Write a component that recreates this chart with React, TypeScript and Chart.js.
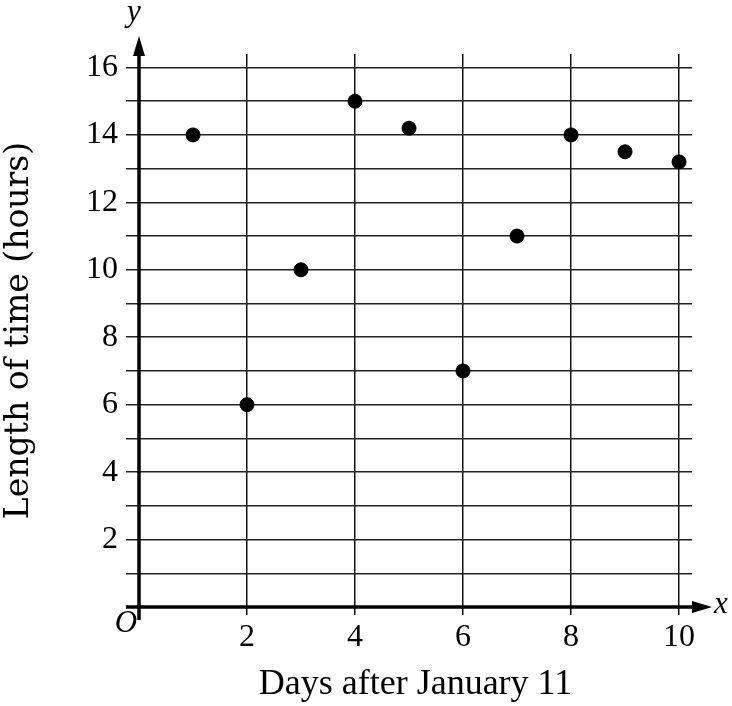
import React, { useEffect, useRef } from "react";
import { Chart, registerables } from "chart.js";

Chart.register(...registerables);

const days = [1, 2, 3, 4, 5, 6, 7, 8, 9, 10];
const hours = [14, 6, 10, 15, 14.2, 7, 11, 14, 13.5, 13.2];
const xTickValues = [0, 2, 4, 6, 8, 10];
const yTickValues = [0, 1, 2, 3, 4, 5, 6, 7, 8, 9, 10, 11, 12, 13, 14, 15, 16];
const xTitle = "Days after January 11";
const yTitle = "Length of time (hours)";

const FONT = "'Liberation Serif', 'DejaVu Serif', serif";
const YFONT = "'DejaVu Serif', 'Liberation Serif', serif";

const axesPlugin = {
  id: "axesArrows",
  afterDraw(chart: any) {
    const { ctx, chartArea, scales } = chart;
    const xs = scales.x;
    const ys = scales.y;
    const x0 = xs.getPixelForValue(0);
    const y0 = ys.getPixelForValue(0);
    const tipX = 712;
    const tipY = 36;
    ctx.save();
    ctx.strokeStyle = "#000";
    ctx.fillStyle = "#000";
    ctx.lineWidth = 3.5;
    ctx.lineCap = "butt";
    // y axis
    ctx.beginPath();
    ctx.moveTo(x0, chartArea.bottom + 13);
    ctx.lineTo(x0, tipY + 16);
    ctx.stroke();
    ctx.beginPath();
    ctx.moveTo(x0, tipY);
    ctx.lineTo(x0 - 6, tipY + 20);
    ctx.lineTo(x0 + 6, tipY + 20);
    ctx.closePath();
    ctx.fill();
    // x axis
    ctx.beginPath();
    ctx.moveTo(chartArea.left - 13, y0);
    ctx.lineTo(tipX - 16, y0);
    ctx.stroke();
    ctx.beginPath();
    ctx.moveTo(tipX, y0);
    ctx.lineTo(tipX - 20, y0 - 6);
    ctx.lineTo(tipX - 20, y0 + 6);
    ctx.closePath();
    ctx.fill();
    // labels
    ctx.font = "italic 31px " + FONT;
    ctx.textAlign = "center";
    ctx.textBaseline = "middle";
    ctx.fillText("y", x0 - 5, 13);
    ctx.fillText("x", tipX + 9, y0 - 2);
    ctx.fillText("O", x0 - 13, y0 + 17);
    ctx.restore();
  },
};

export default function App() {
  const ref = useRef<HTMLCanvasElement>(null);
  useEffect(() => {
    if (!ref.current) return;
    const chart = new Chart(ref.current, {
      type: "scatter",
      data: {
        datasets: [
          {
            data: days.map((d, i) => ({ x: d, y: hours[i] })),
            backgroundColor: "#000",
            borderColor: "#000",
            pointRadius: 7,
            pointHoverRadius: 7,
          },
        ],
      },
      options: {
        responsive: false,
        animation: false,
        events: [],
        layout: { padding: { top: 54, right: 40, left: 0, bottom: 0 } },
        plugins: { legend: { display: false }, tooltip: { enabled: false } },
        scales: {
          x: {
            type: "linear",
            min: 0,
            max: 10.24,
            afterBuildTicks: (s: any) => {
              s.ticks = xTickValues.map((v) => ({ value: v }));
            },
            afterFit: (s: any) => {
              s.height = 99;
            },
            border: { display: false },
            grid: {
              color: "#111",
              lineWidth: 1.5,
              tickLength: 8,
              tickColor: "#111",
            },
            ticks: {
              autoSkip: false,
              maxRotation: 0,
              padding: 3,
              color: "#000",
              font: { family: FONT, size: 32 },
              callback: (v: any) => (v === 0 ? "" : String(v)),
            },
            title: {
              display: true,
              text: xTitle,
              color: "#000",
              font: { family: FONT, size: 36 },
              padding: { top: 0, bottom: 0 },
            },
          },
          y: {
            type: "linear",
            min: 0,
            max: 16.4,
            afterBuildTicks: (s: any) => {
              s.ticks = yTickValues.map((v) => ({ value: v }));
            },
            afterFit: (s: any) => {
              s.width = 139;
            },
            border: { display: false },
            grid: {
              color: "#222",
              lineWidth: 1.5,
              tickLength: 13,
              tickColor: "#222",
            },
            ticks: {
              autoSkip: false,
              padding: 8,
              color: "#000",
              font: { family: FONT, size: 32 },
              callback: (v: any) => (v !== 0 && v % 2 === 0 ? String(v) : ""),
            },
            title: {
              display: true,
              text: yTitle,
              color: "#000",
              font: { family: YFONT, size: 33 },
              padding: { top: 0, bottom: 0 },
            },
          },
        },
      },
      plugins: [axesPlugin],
    });
    return () => chart.destroy();
  }, []);
  return (
    <div style={{ position: "absolute", left: 0, top: 0, width: 732, height: 706, background: "#fff" }}>
      <canvas ref={ref} width={732} height={706} style={{ display: "block" }} />
    </div>
  );
}
